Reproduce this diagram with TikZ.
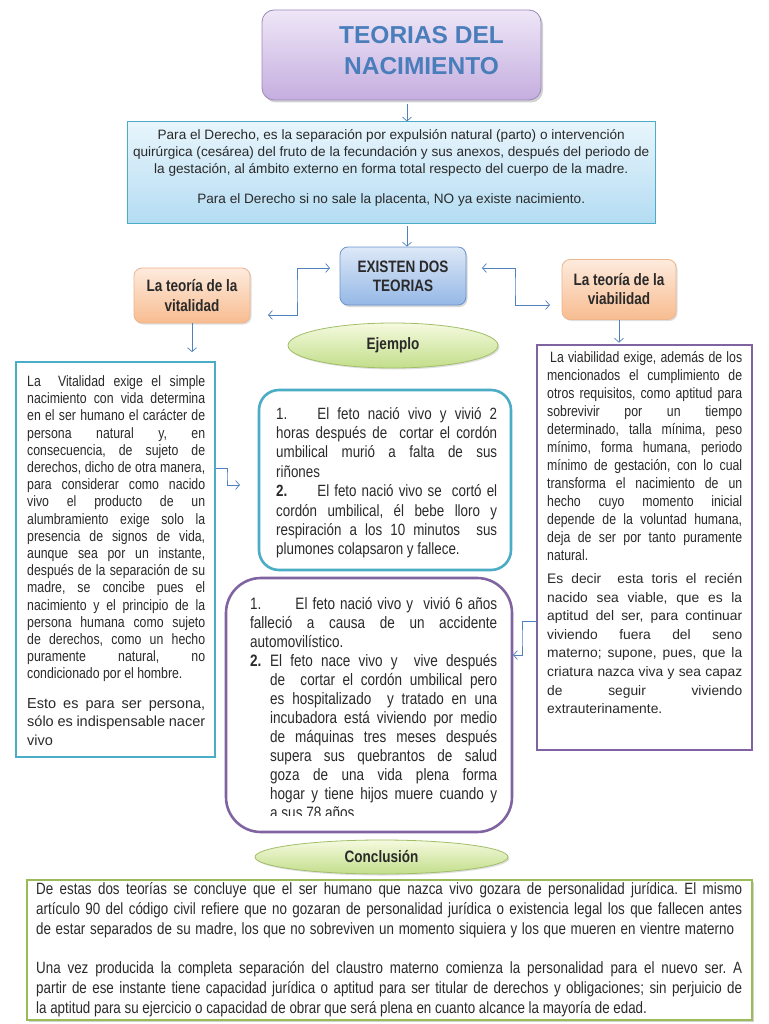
\documentclass[tikz,border=0pt]{standalone}
\usepackage{fontspec}
\setmainfont{Liberation Sans}
\newfontfamily\nar{Liberation Sans}[FakeStretch=0.82]
\usetikzlibrary{arrows.meta,shadows,shapes.geometric}
\definecolor{arrowblue}{HTML}{4F81BD}
\definecolor{textdark}{HTML}{2A2A2A}
\definecolor{titletxt}{HTML}{4A7EBB}
\definecolor{titleTop}{HTML}{EEE6F7}
\definecolor{titleBot}{HTML}{C5AEDF}
\definecolor{titleBorder}{HTML}{9C89BB}
\definecolor{defTop}{HTML}{E8F5FC}
\definecolor{defBot}{HTML}{B3DCF2}
\definecolor{defBorder}{HTML}{4BACC6}
\definecolor{exTop}{HTML}{DDE8F7}
\definecolor{exBot}{HTML}{95B8E6}
\definecolor{exBorder}{HTML}{6D94CC}
\definecolor{peachTop}{HTML}{FDEBDD}
\definecolor{peachBot}{HTML}{F8BC90}
\definecolor{peachBorder}{HTML}{EDB58C}
\definecolor{ellTop}{HTML}{F5FADF}
\definecolor{ellBot}{HTML}{C2DE8A}
\definecolor{ellBorder}{HTML}{A2BE68}
\definecolor{tealB}{HTML}{4BACC6}
\definecolor{purpB}{HTML}{8064A2}
\definecolor{greenB}{HTML}{9BBB59}
\newcommand\JL[1]{\hbox to\hsize{#1}}
\newcommand\NL[1]{\hbox{#1}}
\newcommand\CL[1]{\hbox to\hsize{\hfil#1\hfil}}
\frenchspacing
\tikzset{
  conn/.style={draw=arrowblue, line width=0.7pt, -{Straight Barb[length=4pt,width=9pt]}},
  conn2/.style={draw=arrowblue, line width=0.7pt, {Straight Barb[length=4pt,width=9pt]}-{Straight Barb[length=4pt,width=9pt]}},
  lbl/.style={font=\nar\bfseries\fontsize{16.5}{19}\selectfont, text=textdark, align=center},
  peach/.style={draw=peachBorder, line width=0.8pt, top color=peachTop, bottom color=peachBot, rounded corners=8pt, drop shadow={opacity=0.25,shadow xshift=1.5pt,shadow yshift=-1.5pt}},
  ell/.style={ellipse, draw=ellBorder, line width=0.8pt, top color=ellTop, bottom color=ellBot, inner sep=0pt, drop shadow={opacity=0.25,shadow xshift=1.5pt,shadow yshift=-1.5pt}},
  blk/.style={anchor=base west, inner sep=0pt, text=textdark},
}
\begin{document}
\begin{tikzpicture}[x=1pt,y=-1pt]
\useasboundingbox[fill=white] (0,0) rectangle (768,1024);
\frenchspacing

% title
\node[draw=titleBorder, line width=0.8pt, top color=titleTop, bottom color=titleBot, rounded corners=12pt,
  minimum width=279pt, minimum height=90pt, inner sep=0pt,
  drop shadow={opacity=0.35,shadow xshift=2pt,shadow yshift=-2.5pt}] (title) at (401.5,55) {};
\node[font=\bfseries\fontsize{24.5}{31}\selectfont, text=titletxt, align=center] (titlet) at (421.5,50.5) {TEORIAS DEL\\NACIMIENTO};

% definition
\node[draw=defBorder, line width=1pt, top color=defTop, bottom color=defBot, minimum width=528pt, minimum height=102pt, inner sep=0pt] (def) at (391,173) {};
\node[blk, font=\fontsize{13.6}{17}\selectfont] (deft) at (127,139.5) {\vtop{\hsize=528pt
\CL{Para el Derecho, es la separación por expulsión natural (parto) o intervención}
\CL{quirúrgica (cesárea) del fruto de la fecundación y sus anexos, después del periodo de}
\CL{la gestación, al ámbito externo en forma total respecto del cuerpo de la madre.}
\vskip 13pt
\CL{Para el Derecho si no sale la placenta, NO ya existe nacimiento.}}};

% existen
\node[draw=exBorder, line width=0.8pt, top color=exTop, bottom color=exBot, rounded corners=8pt,
  minimum width=126pt, minimum height=58pt, inner sep=0pt, lbl,
  drop shadow={opacity=0.3,shadow xshift=1.5pt,shadow yshift=-2pt}] (exist) at (403,276) {EXISTEN DOS\\TEORIAS};

% theory boxes
\node[peach, minimum width=116pt, minimum height=55pt, inner sep=0pt, lbl, font=\nar\bfseries\fontsize{16.5}{20}\selectfont] (vital) at (192,295.5) {La teoría de la\\vitalidad};
\node[peach, minimum width=114pt, minimum height=60pt, inner sep=0pt, lbl] (viab) at (619,289.5) {La teoría de la\\viabilidad};

% ellipses
\node[ell, minimum width=210pt, minimum height=45pt, lbl] (ejem) at (393,345.5) {Ejemplo};
\node[ell, minimum width=253pt, minimum height=34pt, lbl] (concl) at (381.5,857) {Conclusión};

% left box
\node[draw=tealB, line width=1.8pt, minimum width=199pt, minimum height=395pt, inner sep=0pt] (lbox) at (115.5,559.5) {};
\node[blk, font=\nar\fontsize{15}{17.2}\selectfont] (ltxt) at (27,386.5) {\vtop{\hsize=178pt
\JL{La\ \ Vitalidad exige el simple}
\JL{nacimiento con vida determina}
\JL{en el ser humano el carácter de}
\JL{persona natural y, en}
\JL{consecuencia, de sujeto de}
\JL{derechos, dicho de otra manera,}
\JL{para considerar como nacido}
\JL{vivo el producto de un}
\JL{alumbramiento exige solo la}
\JL{presencia de signos de vida,}
\JL{aunque sea por un instante,}
\JL{después de la separación de su}
\JL{madre, se concibe pues el}
\JL{nacimiento y el principio de la}
\JL{persona humana como sujeto}
\JL{de derechos, como un hecho}
\JL{puramente natural, no}
\NL{condicionado por el hombre.}
\rmfamily\fontsize{14.5}{18.5}\selectfont
\vskip 11pt
\JL{Esto es para ser persona,}
\JL{sólo es indispensable nacer}
\NL{vivo}}};

% example 1
\node[draw=tealB, line width=2.6pt, rounded corners=20pt, minimum width=252pt, minimum height=180pt, inner sep=0pt] (ex1) at (385,480) {};
\node[blk, font=\nar\fontsize{16.3}{19.4}\selectfont] (ex1t) at (276,419) {\vtop{\hsize=221pt
\JL{1.\hskip 30pt El feto nació vivo y vivió 2}
\JL{horas después de\ \ cortar el cordón}
\JL{umbilical murió a falta de sus}
\NL{riñones}
\JL{\textbf{2.}\hskip 30pt El feto nació vivo se\ \ cortó el}
\JL{cordón umbilical, él bebe lloro y}
\JL{respiración a los 10 minutos\ \ sus}
\NL{plumones colapsaron y fallece.}}};

% example 2
\node[draw=purpB, line width=2.6pt, rounded corners=35pt, minimum width=286pt, minimum height=254pt, inner sep=0pt] (ex2) at (369,705) {};
\begin{scope}
\clip (226,578) rectangle (512,815);
\node[blk, font=\nar\fontsize{16.5}{19}\selectfont] (ex2t) at (250,609) {\vtop{\hsize=247pt
\JL{1.\hskip 34pt El feto nació vivo y\ \ vivió 6 años}
\JL{falleció a causa de un accidente}
\NL{automovilístico.}
\JL{\hbox to 20pt{\textbf{2.}\hfil}El feto nace vivo y\ \ vive después}
\JL{\hskip 20pt de\ \ cortar el cordón umbilical pero}
\JL{\hskip 20pt es hospitalizado\ \ y tratado en una}
\JL{\hskip 20pt incubadora está viviendo por medio}
\JL{\hskip 20pt de máquinas tres meses después}
\JL{\hskip 20pt supera sus quebrantos de salud}
\JL{\hskip 20pt goza de una vida plena forma}
\JL{\hskip 20pt hogar y tiene hijos muere cuando y}
\NL{\hskip 20pt a sus 78 años}}};
\end{scope}

% right box
\node[draw=purpB, line width=2.6pt, minimum width=215pt, minimum height=405pt, inner sep=0pt] (rbox) at (644.5,547.5) {};
\node[blk, font=\nar\fontsize{15}{18}\selectfont] (rtxt) at (547,362.5) {\vtop{\hsize=195pt
\JL{\hskip 3pt La viabilidad exige, además de los}
\JL{mencionados el cumplimiento de}
\JL{otros requisitos, como aptitud para}
\JL{sobrevivir por un tiempo}
\JL{determinado, talla mínima, peso}
\JL{mínimo, forma humana, periodo}
\JL{mínimo de gestación, con lo cual}
\JL{transforma el nacimiento de un}
\JL{hecho cuyo momento inicial}
\JL{depende de la voluntad humana,}
\JL{deja de ser por tanto puramente}
\NL{natural.}
\rmfamily\fontsize{13.8}{18.6}\selectfont
\vskip 4.4pt
\JL{Es decir\ \ esta toris el recién}
\JL{nacido sea viable, que es la}
\JL{aptitud del ser, para continuar}
\JL{viviendo fuera del seno}
\JL{materno; supone, pues, que la}
\JL{criatura nazca viva y sea capaz}
\JL{de seguir viviendo}
\NL{extrauterinamente.}}};

% bottom box
\node[draw=greenB, line width=2.6pt, fill=white, minimum width=725pt, minimum height=140pt, inner sep=0pt,
  drop shadow={opacity=0.35,shadow xshift=2pt,shadow yshift=-2pt}] (bbox) at (389.5,950) {};
\node[blk, font=\nar\fontsize{16.3}{20}\selectfont] (btxt) at (36,894.5) {\vtop{\hsize=706pt
\JL{De estas dos teorías se concluye que el ser humano que nazca vivo gozara de personalidad jurídica. El mismo}
\JL{artículo 90 del código civil refiere que no gozaran de personalidad jurídica o existencia legal los que fallecen antes}
\JL{de estar separados de su madre, los que no sobreviven un momento siquiera y los que mueren en vientre materno\hskip 2pt plus 12pt}
\vskip 19pt
\JL{Una vez producida la completa separación del claustro materno comienza la personalidad para el nuevo ser. A}
\JL{partir de ese instante tiene capacidad jurídica o aptitud para ser titular de derechos y obligaciones; sin perjuicio de}
\NL{la aptitud para su ejercicio o capacidad de obrar que será plena en cuanto alcance la mayoría de edad.}}};

% connectors
\coordinate (vx) at (407,0);
\path (title.south -| vx) ++(0,4) coordinate (t1);
\path (def.south -| vx) ++(0,2) coordinate (d1);
\draw[conn] (t1) -- (def.north -| vx);
\draw[conn] (d1) -- (exist.north -| vx);
\coordinate (eL1) at (330,268);
\coordinate (eLj) at (297,290);
\coordinate (eL2) at (268,315);
\draw[conn2] (eL1) -| (eLj) |- (eL2);
\coordinate (eR1) at (482,268);
\coordinate (eRj) at (515,286);
\coordinate (eR2) at (550,305);
\draw[conn2] (eR1) -| (eRj) |- (eR2);
\draw[conn, shorten >=9pt] (vital.south) -- (lbox.north -| vital.south);
\draw[conn, shorten >=1pt] (viab.south) -- (rbox.north -| viab.south);
\coordinate (a1) at (216,468);
\coordinate (aj) at (227,476);
\coordinate (a2) at (240,485);
\draw[conn] (a1) -| (aj) |- (a2);
\coordinate (b1) at (536,621);
\coordinate (bj) at (522,638);
\coordinate (b2) at (513,655);
\draw[conn] (b1) -| (bj) |- (b2);
\end{tikzpicture}
\end{document}
